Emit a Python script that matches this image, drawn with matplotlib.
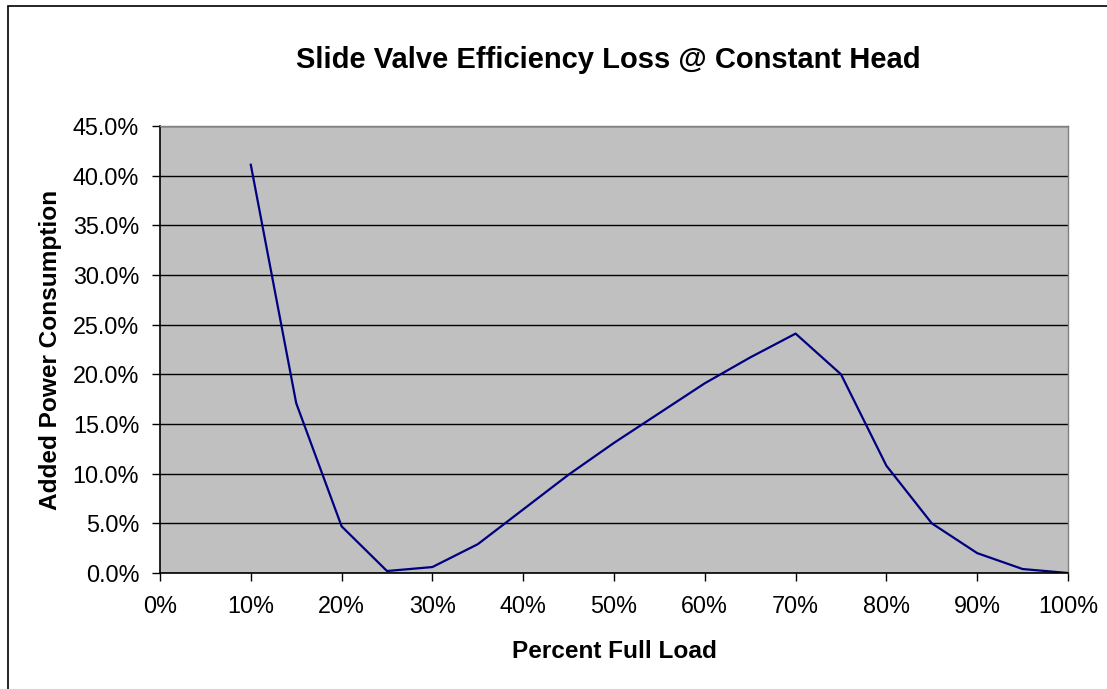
import matplotlib
matplotlib.use("Agg")
import matplotlib.pyplot as plt
from matplotlib.patches import Rectangle
from matplotlib.ticker import PercentFormatter

# percent full load vs added power consumption (both in %)
load_pct = [10, 15, 20, 25, 30, 35, 40, 45, 50, 55, 60, 65, 70, 75, 80, 85, 90, 95, 100]
added_power = [41.1, 17.1, 4.7, 0.2, 0.6, 2.9, 6.4, 9.9, 13.1, 16.1, 19.1, 21.7, 24.1,
               20.0, 10.8, 5.0, 2.0, 0.4, 0.0]

x_ticks = list(range(0, 101, 10))
y_ticks = [i * 5 for i in range(10)]

plt.rcParams["font.family"] = ["Liberation Sans", "DejaVu Sans"]

fig = plt.figure(figsize=(11.07, 6.89), dpi=100)
ax = fig.add_axes([160 / 1107, 116 / 689, 908 / 1107, 447 / 689])

# chart border (only left and top edges show in the original)
fig.patches.append(Rectangle((8 / 1107, -0.1), 1.2, 0.1 + 683 / 689,
                             transform=fig.transFigure, fill=False,
                             edgecolor="black", linewidth=1.2))

ax.set_facecolor("#c0c0c0")
ax.plot(load_pct, added_power, color="#000080", linewidth=1.6)

ax.set_xlim(0, 100)
ax.set_ylim(0, 45)
ax.set_xticks(x_ticks)
ax.set_yticks(y_ticks)
ax.xaxis.set_major_formatter(PercentFormatter(decimals=0))
ax.yaxis.set_major_formatter(PercentFormatter(decimals=1))
ax.grid(axis="y", color="black", linewidth=1)
ax.set_axisbelow(True)
ax.tick_params(direction="out", length=6, width=1, labelsize=16.8)
ax.tick_params(axis="x", pad=10)
ax.tick_params(axis="y", pad=9)

for side in ["left", "bottom"]:
    ax.spines[side].set_color("black")
    ax.spines[side].set_linewidth(1.2)
for side in ["right", "top"]:
    ax.spines[side].set_color("#808080")
    ax.spines[side].set_linewidth(1)

ax.set_xlabel("Percent Full Load", fontsize=17.6, fontweight="bold", labelpad=16)
ax.set_ylabel("Added Power Consumption", fontsize=17.6, fontweight="bold", labelpad=8)
fig.text(608 / 1107, 1 - 60 / 689, "Slide Valve Efficiency Loss @ Constant Head",
         ha="center", va="center", fontsize=21, fontweight="bold")

fig.savefig("out.png", dpi=100)
